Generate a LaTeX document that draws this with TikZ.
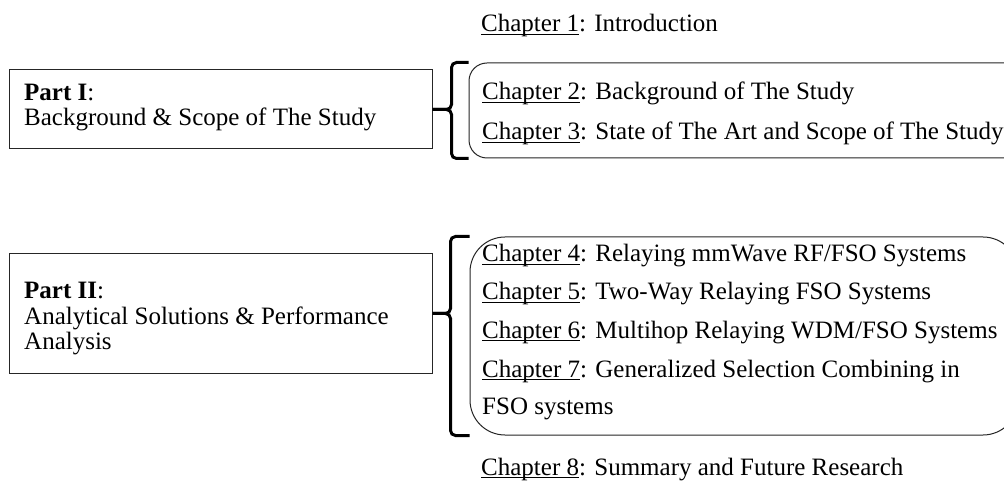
\documentclass[tikz,border=0pt]{standalone}
\usepackage{fontspec}
\setmainfont{Liberation Serif}
\usetikzlibrary{calc}
% underline placed just below the baseline, as in a word processor
\newcommand\chul[1]{\setbox0\hbox{#1}\rlap{\rule[-3.2pt]{\wd0}{1.3pt}}\box0}
\begin{document}
\begin{tikzpicture}[x=1pt,y=-1pt,
  txt/.style={anchor=base west, inner sep=0pt, font=\fontsize{25}{30}\selectfont},
  partbox/.style={draw=black!85, line width=1pt, inner sep=0pt},
  chbox/.style={draw=black!85, line width=1pt, inner sep=0pt},
  brace/.style={draw=black, line width=3pt, rounded corners=5pt}]
\clip (0,0) rectangle (1004,486);
\fill[white] (0,0) rectangle (1004,486);

% part boxes
\node[partbox, minimum width=423pt, minimum height=79pt] (p1) at (220.5,109.5) {};
\node[partbox, minimum width=423pt, minimum height=119pt] (p2) at (220.5,313.5) {};

% chapter groups (right side runs past the page edge)
\node[chbox, rounded corners=18pt, minimum width=556pt, minimum height=95pt] (c1) at (747,110.5) {};
\node[chbox, rounded corners=35pt, minimum width=548pt, minimum height=198pt] (c2) at (744,336) {};

% braces joining each part to its chapters
\draw[brace] (p1.east) -| ([xshift=-17pt]c1.north west) -- (c1.north west);
\draw[brace] (p1.east) -| ([xshift=-17pt]c1.south west) -- (c1.south west);
\draw[brace] (p2.east) -| ([xshift=-19pt]c2.north west) -- (c2.north west);
\draw[brace] (p2.east) -| ([xshift=-19pt]c2.south west) -- (c2.south west);

% part texts
\node[txt] (p1a) at (24,101) {\textbf{Part I}:};
\node[txt] (p1b) at (24,126) {Background \& Scope of The Study};
\node[txt] (p2a) at (24,299) {\textbf{Part II}:};
\node[txt] (p2b) at (24,324) {Analytical Solutions \& Performance};
\node[txt] (p2c) at (24,349) {Analysis};

% chapters
\node[txt] (ch1) at (481,32) {\chul{Chapter 1}: Introduction};
\node[txt] (ch2) at (482,100) {\chul{Chapter 2}: Background of The Study};
\node[txt] (ch3) at (482,140) {\chul{Chapter 3}: State of The Art and Scope of The Study};
\node[txt] (ch4) at (482,262) {\chul{Chapter 4}: Relaying mmWave RF/FSO Systems};
\node[txt] (ch5) at (482,300) {\chul{Chapter 5}: Two-Way Relaying FSO Systems};
\node[txt] (ch6) at (482,338) {\chul{Chapter 6}: Multihop Relaying WDM/FSO Systems};
\node[txt] (ch7) at (482,377) {\chul{Chapter 7}: Generalized Selection Combining in};
\node[txt] (ch7b) at (482,414) {FSO systems};
\node[txt] (ch8) at (481,475) {\chul{Chapter 8}: Summary and Future Research};
\end{tikzpicture}
\end{document}
